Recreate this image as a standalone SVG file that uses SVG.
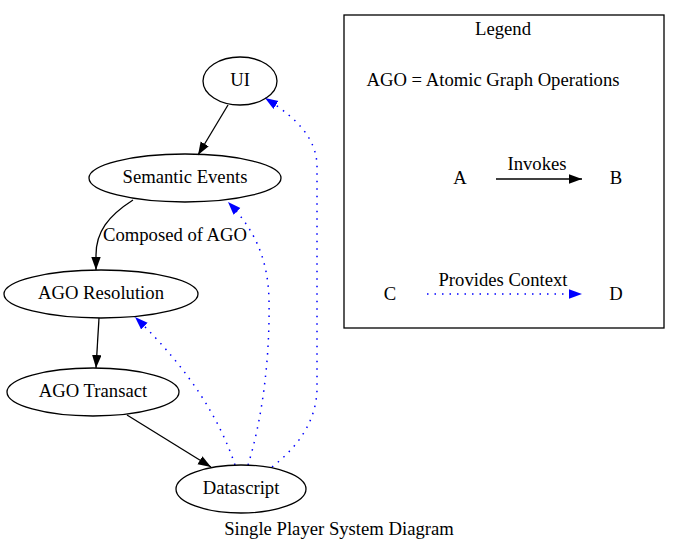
<svg xmlns="http://www.w3.org/2000/svg" width="679" height="549" viewBox="0 0 679 549">
<style>
text{font-family:"Liberation Serif","Times New Roman",serif;font-size:18.67px;fill:#000;text-anchor:middle}
.node ellipse{fill:none;stroke:#000;stroke-width:1.3}
.inv{fill:none;stroke:#000;stroke-width:1.3;marker-end:url(#ab)}
.ctx{fill:none;stroke:#0000ff;stroke-width:1.5;stroke-dasharray:1.5,6;marker-end:url(#ac)}
</style>
<defs>
<marker id="ab" markerUnits="userSpaceOnUse" markerWidth="14" markerHeight="10" refX="13" refY="4.7" orient="auto"><path d="M0,0 L13,4.7 L0,9.4 z" fill="#000"/></marker>
<marker id="ac" markerUnits="userSpaceOnUse" markerWidth="14" markerHeight="10" refX="13" refY="4.7" orient="auto"><path d="M0,0 L13,4.7 L0,9.4 z" fill="#0000ff"/></marker>
</defs>
<rect width="679" height="549" fill="#fff"/>
<g id="edges">
<path class="inv" d="M228,105 L198,155"/>
<path class="inv" d="M133,200 C108,216 96,232 96,255 L96,270"/>
<path class="inv" d="M99,318 L96,368"/>
<path class="inv" d="M127,415 L211,467"/>
<path class="ctx" d="M235,465 C220,420 190,370 135,317"/>
<path class="ctx" d="M248,465 C262,420 270,360 269,300 C268,255 252,227 228,202"/>
<path class="ctx" d="M272,467 C300,445 316,420 317,390 L317,165 C316,140 300,120 265,98"/>
<text x="175" y="241">Composed of AGO</text>
</g>
<g id="UI" class="node"><ellipse cx="240" cy="81" rx="37" ry="24"/><text x="240" y="86">UI</text></g>
<g id="SemanticEvents" class="node"><ellipse cx="185" cy="178" rx="96" ry="24"/><text x="185" y="183">Semantic Events</text></g>
<g id="AGOResolution" class="node"><ellipse cx="101" cy="294" rx="97" ry="24"/><text x="101" y="299">AGO Resolution</text></g>
<g id="AGOTransact" class="node"><ellipse cx="93" cy="392" rx="86" ry="24"/><text x="93" y="397">AGO Transact</text></g>
<g id="Datascript" class="node"><ellipse cx="241" cy="489" rx="65" ry="24"/><text x="241" y="494">Datascript</text></g>
<g id="legend">
<rect x="344" y="15" width="320" height="313" fill="none" stroke="#000" stroke-width="1.3"/>
<text x="503" y="35">Legend</text>
<text x="493" y="86">AGO = Atomic Graph Operations</text>
<text x="460" y="184">A</text>
<text x="616" y="184">B</text>
<path class="inv" d="M496,179 L582,179"/>
<text x="537" y="170">Invokes</text>
<text x="390" y="300">C</text>
<text x="616" y="300">D</text>
<path class="ctx" d="M427,294 L582,294"/>
<text x="503" y="286">Provides Context</text>
</g>
<text x="339" y="535">Single Player System Diagram</text>
</svg>
